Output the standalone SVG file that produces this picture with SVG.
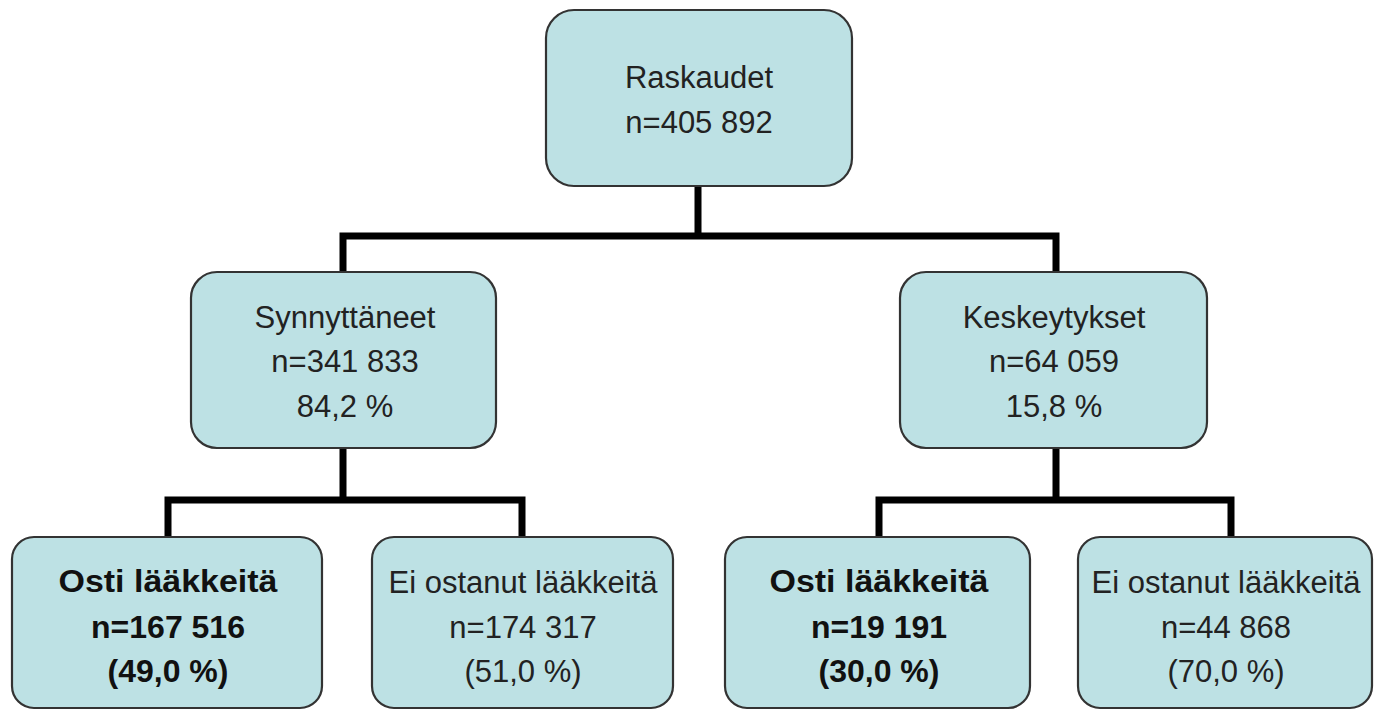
<svg xmlns="http://www.w3.org/2000/svg" width="1375" height="710" viewBox="0 0 1375 710">
<style>
.box{fill:#bde1e4;stroke:#333;stroke-width:2.2}
.t{font-family:"Liberation Sans",Arial,sans-serif;font-size:31px;fill:#222;text-anchor:middle}
.b{font-family:"Liberation Sans",Arial,sans-serif;font-size:32px;font-weight:bold;fill:#111;text-anchor:middle}
.c{fill:none;stroke:#000;stroke-width:7}
</style>
<rect width="1375" height="710" fill="#fff"/>
<g id="connectors">
<path class="c" d="M698 187V236M343 272V236H1056V272"/>
<path class="c" d="M343 448V500M168 537V500H522V537"/>
<path class="c" d="M1056 448V500M879 537V500H1231V537"/>
</g>
<g id="raskaudet">
<rect class="box" x="546" y="10" width="306" height="176" rx="28"/>
<text class="t" x="699" y="88">Raskaudet</text>
<text class="t" x="699" y="133">n=405 892</text>
</g>
<g id="synnyttaneet">
<rect class="box" x="191" y="272" width="305" height="176" rx="26"/>
<text class="t" x="345" y="328">Synnyttäneet</text>
<text class="t" x="345" y="372">n=341 833</text>
<text class="t" x="345" y="417">84,2 %</text>
</g>
<g id="keskeytykset">
<rect class="box" x="900" y="272" width="307" height="176" rx="26"/>
<text class="t" x="1054" y="328">Keskeytykset</text>
<text class="t" x="1054" y="372">n=64 059</text>
<text class="t" x="1054" y="417">15,8 %</text>
</g>
<g id="osti1">
<rect class="box" x="12" y="537" width="310" height="171" rx="22"/>
<text class="b" x="168" y="592" textLength="219" lengthAdjust="spacingAndGlyphs">Osti lääkkeitä</text>
<text class="b" x="168" y="638">n=167 516</text>
<text class="b" x="168" y="682">(49,0 %)</text>
</g>
<g id="eiostanut1">
<rect class="box" x="372" y="537" width="301" height="171" rx="22"/>
<text class="t" x="523" y="593">Ei ostanut lääkkeitä</text>
<text class="t" x="523" y="638">n=174 317</text>
<text class="t" x="523" y="682">(51,0 %)</text>
</g>
<g id="osti2">
<rect class="box" x="725" y="537" width="305" height="171" rx="22"/>
<text class="b" x="879" y="592" textLength="219" lengthAdjust="spacingAndGlyphs">Osti lääkkeitä</text>
<text class="b" x="879" y="638">n=19 191</text>
<text class="b" x="879" y="682">(30,0 %)</text>
</g>
<g id="eiostanut2">
<rect class="box" x="1078" y="537" width="294" height="171" rx="22"/>
<text class="t" x="1226" y="593">Ei ostanut lääkkeitä</text>
<text class="t" x="1226" y="638">n=44 868</text>
<text class="t" x="1226" y="682">(70,0 %)</text>
</g>
</svg>
